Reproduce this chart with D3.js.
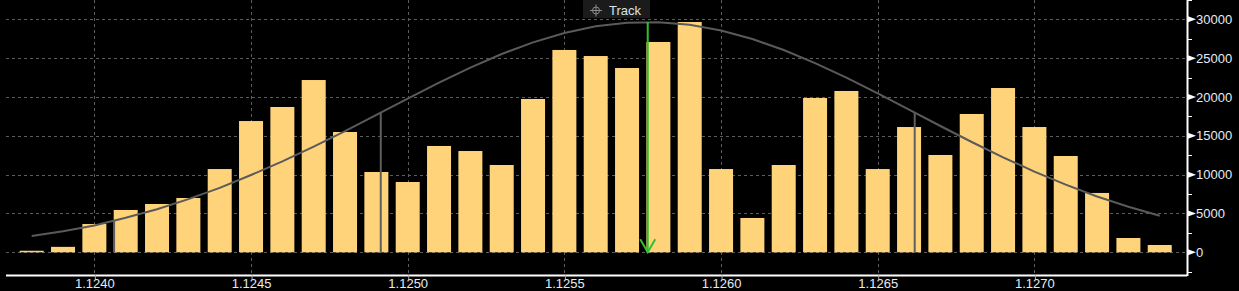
<!DOCTYPE html>
<html>
<head>
<meta charset="utf-8">
<script src="https://cdn.jsdelivr.net/npm/d3@7/dist/d3.min.js"></script>
<style>
  html, body { margin: 0; padding: 0; background: #000; }
  svg { display: block; }
  text { font-family: "Liberation Sans", Arial, sans-serif; }
</style>
</head>
<body>
<svg id="chart" width="1239" height="291"></svg>
<script>
// ---- data ----
const prices = [1.1238, 1.1239, 1.1240, 1.1241, 1.1242, 1.1243, 1.1244, 1.1245, 1.1246, 1.1247,
                1.1248, 1.1249, 1.1250, 1.1251, 1.1252, 1.1253, 1.1254, 1.1255, 1.1256, 1.1257,
                1.1258, 1.1259, 1.1260, 1.1261, 1.1262, 1.1263, 1.1264, 1.1265, 1.1266, 1.1267,
                1.1268, 1.1269, 1.1270, 1.1271, 1.1272, 1.1273, 1.1274];
const volumes = [200, 700, 3640, 5450, 6220, 6990, 10720, 16900, 18710, 22180,
                 15490, 10340, 9050, 13690, 13040, 11240, 19740, 26050, 25270, 23730,
                 27080, 29650, 10720, 4420, 11240, 19870, 20770, 10720, 16130, 12530,
                 17810, 21150, 16130, 12400, 7640, 1840, 940];
const curve = [2100, 2720, 3450, 4450, 5550, 6850, 8300, 9950, 11700, 13600,
               15600, 17700, 19790, 21840, 23780, 25530, 27030, 28240, 29090, 29560,
               29630, 29290, 28550, 27460, 26040, 24360, 22480, 20460, 18370, 16260,
               14200, 12230, 10390, 8710, 7190, 5870, 4700];
const meanPrice = 1.125766;
const meanTop = 29650;
const sigmaPrices = [1.124063, 1.124914, 1.126618];
const sigmaTops = [4010, 17980, 17980];
const xTicks = [1.1240, 1.1245, 1.1250, 1.1255, 1.1260, 1.1265, 1.1270];
const yMajor = [0, 5000, 10000, 15000, 20000, 25000, 30000];
const yMinor = [-2500, 2500, 7500, 12500, 17500, 22500, 27500, 32500];
const trackLabel = "Track";

(function () {
// ---- layout ----
const svg = d3.select("#chart");
const pL = 6, pR = 1187, pT = 0, pB = 275;
const x = d3.scaleLinear().domain([1.123718, 1.127487]).range([pL, pR]);
const y = d3.scaleLinear().domain([-2923, 32484]).range([pB, pT]);
const barW = 24;

svg.append("rect").attr("width", 1239).attr("height", 291).attr("fill", "#000");

// grid
const grid = svg.append("g").attr("stroke", "#5c5c5c").attr("stroke-width", 1).attr("stroke-dasharray", "3,3");
grid.selectAll("line.h").data(yMajor).join("line").attr("class", "h")
  .attr("x1", pL).attr("x2", pR)
  .attr("y1", d => Math.round(y(d)) + 0.5).attr("y2", d => Math.round(y(d)) + 0.5);
grid.selectAll("line.v").data(xTicks).join("line").attr("class", "v")
  .attr("x1", d => Math.round(x(d)) + 0.5).attr("x2", d => Math.round(x(d)) + 0.5)
  .attr("y1", pT).attr("y2", pB);

// bars
svg.append("g").selectAll("rect").data(prices).join("rect")
  .attr("x", d => x(d) - barW / 2)
  .attr("width", barW)
  .attr("y", (d, i) => y(volumes[i]))
  .attr("height", (d, i) => y(0) - y(volumes[i]))
  .attr("fill", "#ffd37a");

// sigma lines
svg.append("g").selectAll("line").data(sigmaPrices).join("line")
  .attr("x1", d => x(d)).attr("x2", d => x(d))
  .attr("y1", (d, i) => y(sigmaTops[i])).attr("y2", y(0))
  .attr("stroke", "#5e5e5e").attr("stroke-width", 2);

// curve
svg.append("path")
  .datum(prices)
  .attr("d", d3.line().x(d => x(d)).y((d, i) => y(curve[i])))
  .attr("fill", "none").attr("stroke", "#5a5a5a").attr("stroke-width", 2);

// mean line (green arrow)
const gx = x(meanPrice);
svg.append("line").attr("x1", gx).attr("x2", gx).attr("y1", y(meanTop)).attr("y2", y(0))
  .attr("stroke", "#2fc02f").attr("stroke-width", 2);
svg.append("path")
  .attr("d", `M${gx - 7.5},${y(0) - 13}L${gx},${y(0)}L${gx + 7.5},${y(0) - 13}`)
  .attr("fill", "none").attr("stroke", "#2fc02f").attr("stroke-width", 2);

// x axis
const xAxis = d3.axisBottom(x).tickValues(xTicks).tickFormat(d3.format(".4f")).tickSize(5).tickSizeOuter(0);
const gX = svg.append("g").attr("transform", `translate(0,${pB})`).call(xAxis);
gX.select(".domain").attr("stroke", "#fff").attr("stroke-width", 2).attr("d", `M${pL},0.5H${pR}`);
gX.selectAll(".tick line").attr("stroke", "#aaa").attr("transform", "translate(0.5,0)");
gX.selectAll(".tick text").attr("fill", "#e4ecf4").attr("font-size", 13).attr("y", 4).attr("dy", "0.71em");

// y axis
const yAxis = d3.axisRight(y).tickValues(yMajor).tickFormat(d3.format("d")).tickSize(0).tickPadding(9).tickSizeOuter(0);
const gY = svg.append("g").attr("transform", `translate(${pR},0)`).call(yAxis);
gY.select(".domain").attr("stroke", "#fff").attr("stroke-width", 2).attr("d", `M0.5,${pT}V${pB + 1}`);
gY.selectAll(".tick text").attr("fill", "#e4ecf4").attr("font-size", 13);
gY.selectAll("path.tri").data(yMajor).join("path").attr("class", "tri")
  .attr("d", d => `M1,${y(d) - 3}L9,${y(d)}L1,${y(d) + 3}Z`)
  .attr("fill", "#fff");
gY.selectAll("line.minor").data(yMinor).join("line").attr("class", "minor")
  .attr("x1", 1).attr("x2", 5)
  .attr("y1", d => Math.round(y(d)) + 0.5).attr("y2", d => Math.round(y(d)) + 0.5)
  .attr("stroke", "#fff").attr("stroke-width", 1);

// track label
const tg = svg.append("g").attr("transform", "translate(583,0)");
tg.append("rect").attr("width", 67).attr("height", 18).attr("fill", "#1b1b1b");
const ic = tg.append("g").attr("transform", "translate(13,10.5)").attr("stroke", "#8a8a8a").attr("fill", "none");
ic.append("circle").attr("r", 3.5);
ic.append("line").attr("x1", -6).attr("x2", 6).attr("y1", 0).attr("y2", 0);
ic.append("line").attr("y1", -6).attr("y2", 6).attr("x1", 0).attr("x2", 0);
tg.append("text").attr("x", 26).attr("y", 15).attr("fill", "#d8e2ea").attr("font-size", 13).text(trackLabel);
})();
</script>
</body>
</html>
